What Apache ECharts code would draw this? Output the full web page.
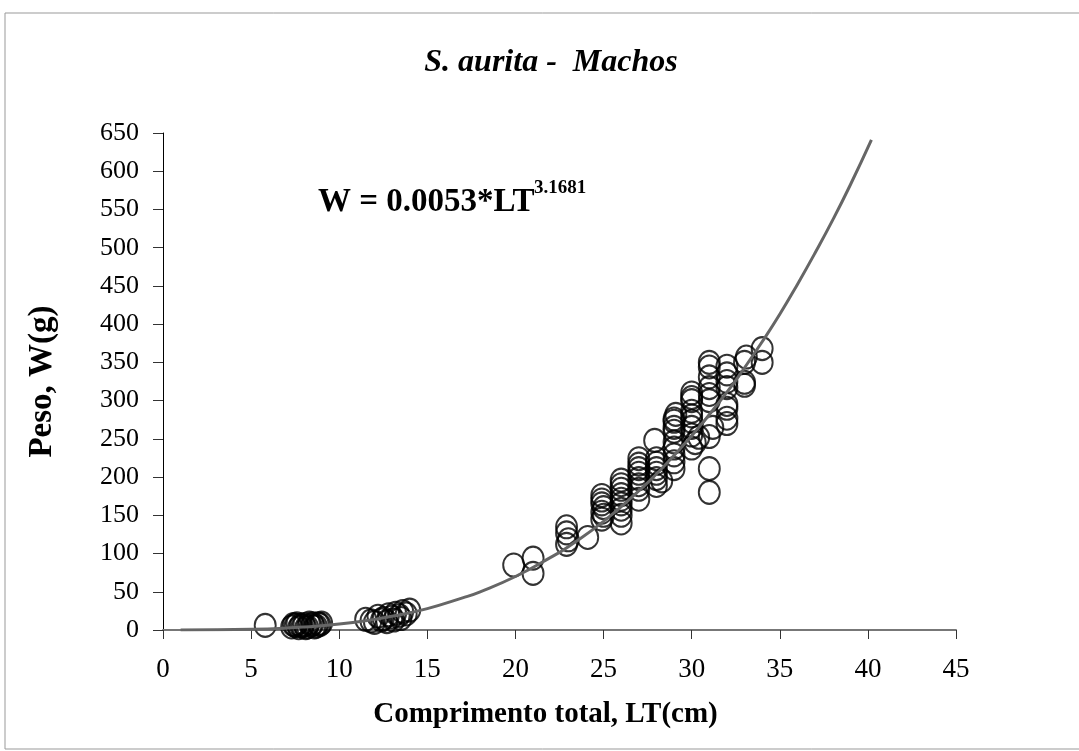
<!DOCTYPE html>
<html>
<head>
<meta charset="utf-8">
<script src="https://cdn.jsdelivr.net/npm/echarts@6/dist/echarts.min.js"></script>
<style>html,body{margin:0;padding:0;background:#fff;}#c{width:1079px;height:751px;}</style>
</head>
<body>
<div id="c"></div>
<script>
// Observed data points: [LT (cm), W (g)]
var observed = [
  [5.8,6],
  [7.3,4],[7.4,7],[7.5,6],[7.6,8],[7.7,3],[7.8,6],[7.9,5],[8.0,7],[8.1,3],[8.2,4],[8.3,9],[8.4,6],[8.5,8],[8.6,4],[8.7,5],[8.8,8],[8.9,7],[9.0,9],
  [11.5,14],[11.8,12],[12.0,10],[12.2,18],[12.4,13],[12.5,15],[12.7,11],[12.8,20],[13.0,17],[13.1,13],[13.2,22],[13.4,19],[13.5,15],[13.6,24],[13.8,21],[14.0,26],
  [19.9,85],[21.0,94],[21.0,74],
  [22.9,135],[22.9,127],[22.9,112],[23.0,118],[24.1,121],
  [24.9,176],[24.9,170],[24.9,165],[24.9,154],[24.9,145],[25.0,160],[25.0,150],
  [26.0,196],[26.0,190],[26.0,184],[26.0,177],[26.0,171],[26.0,165],[26.0,158],[26.0,150],[26.0,140],
  [27.0,224],[27.0,217],[27.0,211],[27.0,205],[27.0,198],[27.0,190],[27.0,184],[27.0,171],
  [27.9,248],[28.0,224],[28.0,218],[28.0,211],[28.0,205],[28.0,198],[28.0,189],[28.3,195],
  [29.1,282],[29.0,276],[29.0,273],[29.0,265],[29.0,260],[29.0,246],[29.0,238],[29.0,229],[29.0,220],[29.0,211],
  [30.0,310],[30.0,304],[30.0,300],[30.0,286],[30.0,280],[30.0,273],[30.0,265],[30.0,255],[30.2,245],[30.0,238],[30.4,252],
  [31.0,350],[31.0,344],[31.0,331],[31.0,317],[31.0,308],[31.0,300],[31.2,265],[31.0,253],[31.0,211],[31.0,180],
  [32.0,345],[32.0,335],[32.0,325],[32.0,317],[32.0,295],[32.0,290],[32.0,277],[32.0,270],
  [33.1,357],[33.0,350],[33.0,324],[33.0,320],
  [34.0,368],[34.0,350]
];
// Trend line: [LT, W]
var trend = [
  [1,0.01],[3,0.17],[5,0.9],[7,2.5],[8,3.9],[10,7.8],[12,13.9],[13,17.9],[15,28],[17,42],[18,50],
  [20,70],[22,95],[23,109],[25,142],[27,182],[28,204],[30,254],[32,311],[33,343],[34,377],
  [35,413],[36,452],[37,493],[38,536],[39,582],[40.2,641]
];
var titleText = 'S. aurita -  Machos';
var xName = 'Comprimento total, LT(cm)';
var yName = 'Peso, W(g)';
var eqMain = 'W = 0.0053*LT';
var eqSup = '3.1681';

var font = '"Liberation Serif", "Times New Roman", serif';
var chart = echarts.init(document.getElementById('c'));
chart.setOption({
  backgroundColor: '#fff',
  animation: false,
  title: {
    text: titleText, left: 546, top: 42, textAlign: 'center',
    textStyle: {fontFamily: font, fontSize: 32, fontWeight: 'bold', fontStyle: 'italic', color: '#000'}
  },
  grid: {left: 163, right: 123, top: 133, bottom: 121},
  xAxis: {
    type: 'value', min: 0, max: 45, interval: 5,
    name: xName, nameLocation: 'middle', nameGap: 70,
    nameTextStyle: {fontFamily: font, fontSize: 29, fontWeight: 'bold', color: '#000', padding: [0, 28, 0, 0]},
    axisLine: {lineStyle: {color: '#777', width: 2}},
    axisTick: {show: true, length: 9, lineStyle: {color: '#333'}},
    axisLabel: {fontFamily: font, fontSize: 27, color: '#000', margin: 26},
    splitLine: {show: false}
  },
  yAxis: {
    type: 'value', min: 0, max: 650, interval: 50,
    name: yName, nameLocation: 'middle', nameGap: 104, nameRotate: 90,
    nameTextStyle: {fontFamily: font, fontSize: 33, fontWeight: 'bold', color: '#000'},
    axisLine: {show: true, lineStyle: {color: '#000', width: 1}},
    axisTick: {show: true, length: 10, lineStyle: {color: '#333'}},
    axisLabel: {fontFamily: font, fontSize: 26, color: '#000', margin: 24},
    splitLine: {show: false}
  },
  graphic: [
    {type: 'rect', shape: {x: 5, y: 13, width: 1090, height: 736}, style: {fill: 'none', stroke: '#999', lineWidth: 1}, silent: true},
    {type: 'text', left: 318, top: 186, style: {text: eqMain, fontFamily: font, fontSize: 33, fontWeight: 'bold', fill: '#000'}},
    {type: 'text', left: 534, top: 179, style: {text: eqSup, fontFamily: font, fontSize: 19, fontWeight: 'bold', fill: '#000'}}
  ],
  series: [
    {
      type: 'scatter', data: observed, symbol: 'circle', symbolSize: [21, 23],
      itemStyle: {color: 'rgba(255,255,255,0)', borderColor: '#000', borderWidth: 2}, z: 3
    },
    {
      type: 'line', data: trend, smooth: true, showSymbol: false, symbol: 'none',
      lineStyle: {color: '#666', width: 3}, z: 4
    }
  ]
});
</script>
</body>
</html>
